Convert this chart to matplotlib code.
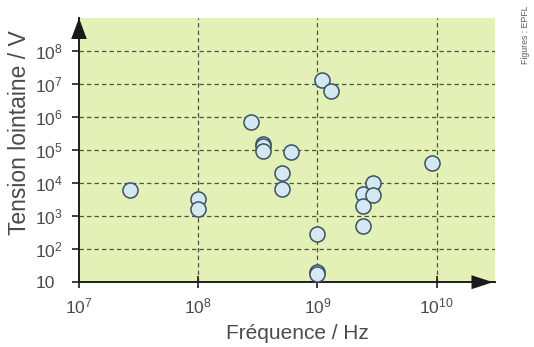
import matplotlib
matplotlib.use("Agg")
import matplotlib.pyplot as plt
from matplotlib.patches import Polygon
from matplotlib.ticker import FixedLocator, FixedFormatter, NullLocator

plt.rcParams['font.family'] = ['Liberation Sans', 'DejaVu Sans']
plt.rcParams['mathtext.fontset'] = 'custom'
plt.rcParams['mathtext.rm'] = 'Liberation Sans'
plt.rcParams['mathtext.it'] = 'Liberation Sans'
plt.rcParams['mathtext.default'] = 'rm'

# Data (frequency in Hz, far-field voltage in V)
freq = [2.7e7, 1.0e8, 1.0e8, 2.8e8, 3.5e8, 3.5e8, 3.5e8, 6.0e8, 5.0e8, 5.0e8,
        1.1e9, 1.3e9, 1.0e9, 1.0e9, 1.0e9, 2.4e9, 2.4e9, 2.9e9, 2.9e9, 2.4e9, 9.2e9]
volt = [6.0e3, 3.2e3, 1.6e3, 6.9e5, 1.5e5, 1.3e5, 9.2e4, 9.0e4, 2.0e4, 6.8e3,
        1.3e7, 6.0e6, 2.8e2, 2.0e1, 1.8e1, 4.8e3, 2.0e3, 1.0e4, 4.5e3, 4.9e2, 4.0e4]

xticks = [1e7, 1e8, 1e9, 1e10]
xticklabels = [r'$10^{7}$', r'$10^{8}$', r'$10^{9}$', r'$10^{10}$']
yticks = [1e1, 1e2, 1e3, 1e4, 1e5, 1e6, 1e7, 1e8]
yticklabels = ['10', r'$10^{2}$', r'$10^{3}$', r'$10^{4}$', r'$10^{5}$',
               r'$10^{6}$', r'$10^{7}$', r'$10^{8}$']

W, H = 534, 347
fig = plt.figure(figsize=(W / 100, H / 100), dpi=100)
fig.patch.set_facecolor('white')
L, R, T, B = 79, 495, 18, 282.2
ax = fig.add_axes([L / W, 1 - B / H, (R - L) / W, (B - T) / H])
ax.set_facecolor('#e3f0b6')
ax.set_xscale('log')
ax.set_yscale('log')
ax.set_xlim(1e7, 10 ** 10.49)
ax.set_ylim(10, 1e9)

grid_kw = dict(color='#4b5540', lw=0.9, ls=(0, (3.5, 2.5)), zorder=1)
for xv in xticks[1:]:
    ax.axvline(xv, **grid_kw)
for yv in yticks[1:]:
    ax.axhline(yv, **grid_kw)

ax.scatter(freq, volt, s=118, facecolor='#d3e8f1', edgecolor='#3b5264',
           linewidths=1.1, zorder=3, clip_on=False)

for side in ['top', 'right']:
    ax.spines[side].set_visible(False)
for side in ['left', 'bottom']:
    ax.spines[side].set_color('#1e1e1e')
    ax.spines[side].set_linewidth(1.4)

ax.xaxis.set_major_locator(FixedLocator(xticks))
ax.xaxis.set_major_formatter(FixedFormatter(xticklabels))
ax.xaxis.set_minor_locator(NullLocator())
ax.yaxis.set_major_locator(FixedLocator(yticks))
ax.yaxis.set_major_formatter(FixedFormatter(yticklabels))
ax.yaxis.set_minor_locator(NullLocator())

ax.tick_params(axis='x', direction='inout', length=8, width=1.2, color='#1e1e1e',
               labelsize=12.5, labelcolor='#4a4a4a', pad=6)
ax.tick_params(axis='y', direction='out', length=5, width=1.2, color='#1e1e1e',
               labelsize=12.5, labelcolor='#4a4a4a', pad=26.5)
for lab in ax.get_yticklabels():
    lab.set_horizontalalignment('left')

ax.set_xlabel('Fréquence / Hz', fontsize=15, color='#4a4a4a')
ax.xaxis.set_label_coords(0.525, -0.158)
ax.set_ylabel('Tension lointaine / V', fontsize=16.5, color='#4a4a4a')
ax.yaxis.set_label_coords(-0.115, 0.567)

# axis arrows
aw, ah = 416.0, 264.2
up = Polygon([[0, 1.0], [-7.8 / aw, 1 - 21 / ah], [7.8 / aw, 1 - 21 / ah]],
             closed=True, transform=ax.transAxes, clip_on=False,
             facecolor='#1a1a1a', edgecolor='none', zorder=5)
right = Polygon([[(493 - L) / aw, 0], [(471.5 - L) / aw, 7 / ah], [(471.5 - L) / aw, -7 / ah]],
                closed=True, transform=ax.transAxes, clip_on=False,
                facecolor='#1a1a1a', edgecolor='none', zorder=5)
ax.add_patch(up)
ax.add_patch(right)

fig.text(525 / W, 1 - 35 / H, 'Figures : EPFL', rotation=90, fontsize=6.3,
         color='#606060', ha='center', va='center')

fig.savefig('out.png', dpi=100, facecolor='white')
